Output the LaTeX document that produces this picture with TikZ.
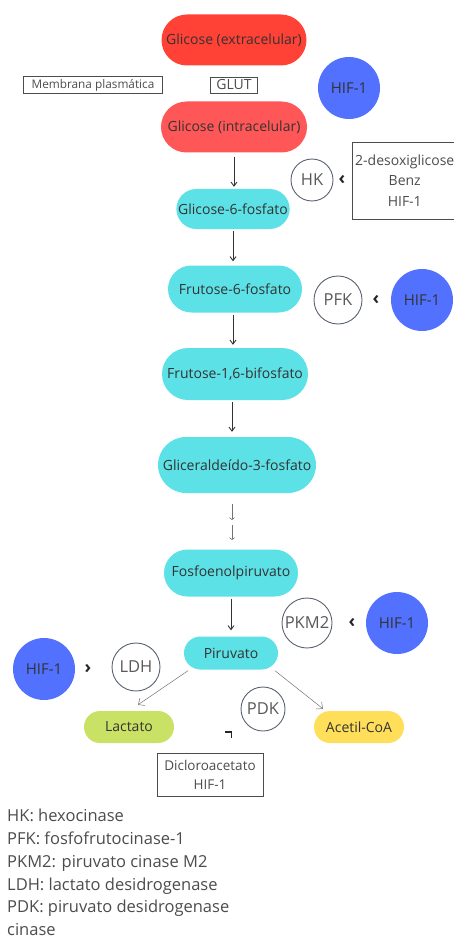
\documentclass[tikz,border=0pt]{standalone}
\usepackage{fontspec}
\setmainfont{Open Sans}
\usetikzlibrary{positioning,shapes.misc,arrows.meta}
\definecolor{redout}{HTML}{FF4136}
\definecolor{redin}{HTML}{FF5757}
\definecolor{cyanstep}{HTML}{5CE1E6}
\definecolor{hifblue}{HTML}{5271FF}
\definecolor{lactgreen}{HTML}{C9E265}
\definecolor{acetyellow}{HTML}{FFDE59}
\definecolor{inktext}{HTML}{333333}
\definecolor{ringgray}{HTML}{5A6270}
\tikzset{
  metab/.style={rounded rectangle, align=center, text=inktext, inner sep=1pt, font=\fontsize{14}{16}\selectfont},
  enzyme/.style={draw=ringgray, circle, line width=0.9pt, fill=white, text=black!65, inner sep=0pt, font=\fontsize{16.5}{18}\selectfont},
  hif/.style={circle, fill=hifblue, text=inktext, minimum size=62pt, inner sep=0pt, font=\fontsize{15}{17}\selectfont},
  labelbox/.style={draw=black!70, rectangle, align=center, text=black!70, inner sep=2pt, font=\fontsize{14}{20.5}\selectfont},
  inhib/.style={inner sep=0pt, text=black!85, font=\fontsize{18}{18}\bfseries\selectfont},
  pathway/.style={-{Straight Barb[length=4pt,width=6pt]}, line width=0.9pt, draw=black!80},
  thinstep/.style={-{Straight Barb[length=2pt,width=5pt]}, line width=0.6pt, draw=black!55},
  branch/.style={-{Straight Barb[length=5pt,width=9pt]}, line width=0.5pt, draw=black!55}
}
\begin{document}
\begin{tikzpicture}[x=1pt, y=-1pt]
  \useasboundingbox (0,0) rectangle (454,941);
  % glicose e membrana
  \node[metab, fill=redout, minimum width=147pt, minimum height=51pt] (gluext) at (234,40) {Glicose (extracelular)};
  \node[labelbox, font=\fontsize{11.8}{13}\selectfont, minimum width=139pt, minimum height=17pt, inner sep=0pt] (membrana) at (93,85) {Membrana plasmática};
  \node[labelbox, minimum width=47pt, minimum height=16pt, inner sep=0pt] (glut) at (234,85) {GLUT};
  \node[hif] (hiftop) at (349,88) {HIF-1};
  \node[metab, fill=redin, minimum width=148pt, minimum height=51pt] (gluint) at (234,127) {Glicose (intracelular)};

  % glicolise
  \node[metab, fill=cyanstep, minimum width=113pt, minimum height=40pt] (g6p) at (233,209) {Glicose-6-fosfato};
  \node[metab, fill=cyanstep, minimum width=136pt, minimum height=47pt] (f6p) at (235,289) {Frutose-6-fosfato};
  \node[metab, fill=cyanstep, minimum width=148pt, minimum height=52pt] (f16bp) at (235,374) {Frutose-1,6-bifosfato};
  \node[metab, fill=cyanstep, minimum width=160pt, minimum height=56pt] (ga3p) at (237,465) {Gliceraldeído-3-fosfato};
  \node[metab, fill=cyanstep, minimum width=136pt, minimum height=47pt] (pep) at (231,573) {Fosfoenolpiruvato};
  \node[metab, fill=cyanstep, minimum width=96pt, minimum height=33pt] (piruvato) at (231,653) {Piruvato};
  \node[metab, fill=lactgreen, minimum width=92pt, minimum height=32pt] (lactato) at (129,727) {Lactato};
  \node[metab, fill=acetyellow, minimum width=92pt, minimum height=32pt] (acetil) at (359,727) {Acetil-CoA};

  % enzimas e reguladores
  \node[enzyme, minimum size=42pt] (hk) at (312,180) {HK};
  \node[inhib] (inhhk) at (342,180) {‹};
  \node[labelbox, anchor=west, align=center, inner sep=3pt, minimum height=77pt] (hkdrugs) at (352,180.5) {2-desoxiglicose\\Benz\\HIF-1};
  \node[enzyme, minimum size=48pt] (pfk) at (338,300) {PFK};
  \node[inhib] (inhpfk) at (376,300) {‹};
  \node[hif] (hifpfk) at (422,300) {HIF-1};
  \node[enzyme, minimum size=50pt] (pkm) at (307,623) {PKM2};
  \node[inhib] (inhpkm) at (352,623) {‹};
  \node[hif] (hifpkm) at (397,623) {HIF-1};
  \node[hif] (hifldh) at (44,669) {HIF-1};
  \node[inhib] (inhldh) at (88,669) {›};
  \node[enzyme, minimum size=48pt] (ldh) at (136,667) {LDH};
  \node[enzyme, minimum size=44pt] (pdk) at (263,709) {PDK};
  \node[labelbox, minimum width=106pt, minimum height=43pt, inner sep=1pt, font=\fontsize{13.5}{19}\selectfont] (pdkdrugs) at (210,775) {Dicloroacetato\\HIF-1};

  \coordinate (gap1) at (232,504);
  \coordinate (gap2) at (232,520);
  \coordinate (gap3) at (232,525);
  \coordinate (gap4) at (232,540);
  \coordinate (cornerA) at (225,732);
  \coordinate (cornerB) at (231.5,738);

  \draw[pathway] ([yshift=-4pt]gluint.south) -- ([yshift=2pt]gluint.south |- g6p.north);
  \draw[pathway] ([yshift=-2pt]g6p.south) -- ([yshift=4pt]g6p.south |- f6p.north);
  \draw[pathway] ([xshift=-2pt,yshift=-2pt]f6p.south) -- ([xshift=-2pt,yshift=3pt]f6p.south |- f16bp.north);
  \draw[pathway] ([xshift=-3pt,yshift=-2pt]f16bp.south) -- ([xshift=-3pt,yshift=5pt]f16bp.south |- ga3p.north);
  \draw[thinstep] (gap1) -- (gap2);
  \draw[thinstep] (gap3) -- (gap4);
  \draw[pathway] ([yshift=-2pt]pep.south) -- ([yshift=6pt]pep.south |- piruvato.north);
  \draw[branch] ([xshift=-43pt,yshift=-1pt]piruvato.south) -- ([xshift=9pt,yshift=6pt]lactato.north);
  \draw[branch] ([xshift=44pt,yshift=-1pt]piruvato.south) -- ([xshift=-36pt,yshift=2pt]acetil.north);
  \draw[line width=1.3pt, black!85] (cornerA) -| (cornerB);

  % legenda
  \node[anchor=north west, align=left, inner sep=0pt, text=black!70, font=\fontsize{16.5}{22.8}\selectfont] (legenda) at (7,809) {HK: hexocinase\\PFK: fosfofrutocinase-1\\PKM2: piruvato cinase M2\\LDH: lactato desidrogenase\\PDK: piruvato desidrogenase\\cinase};
\end{tikzpicture}
\end{document}
